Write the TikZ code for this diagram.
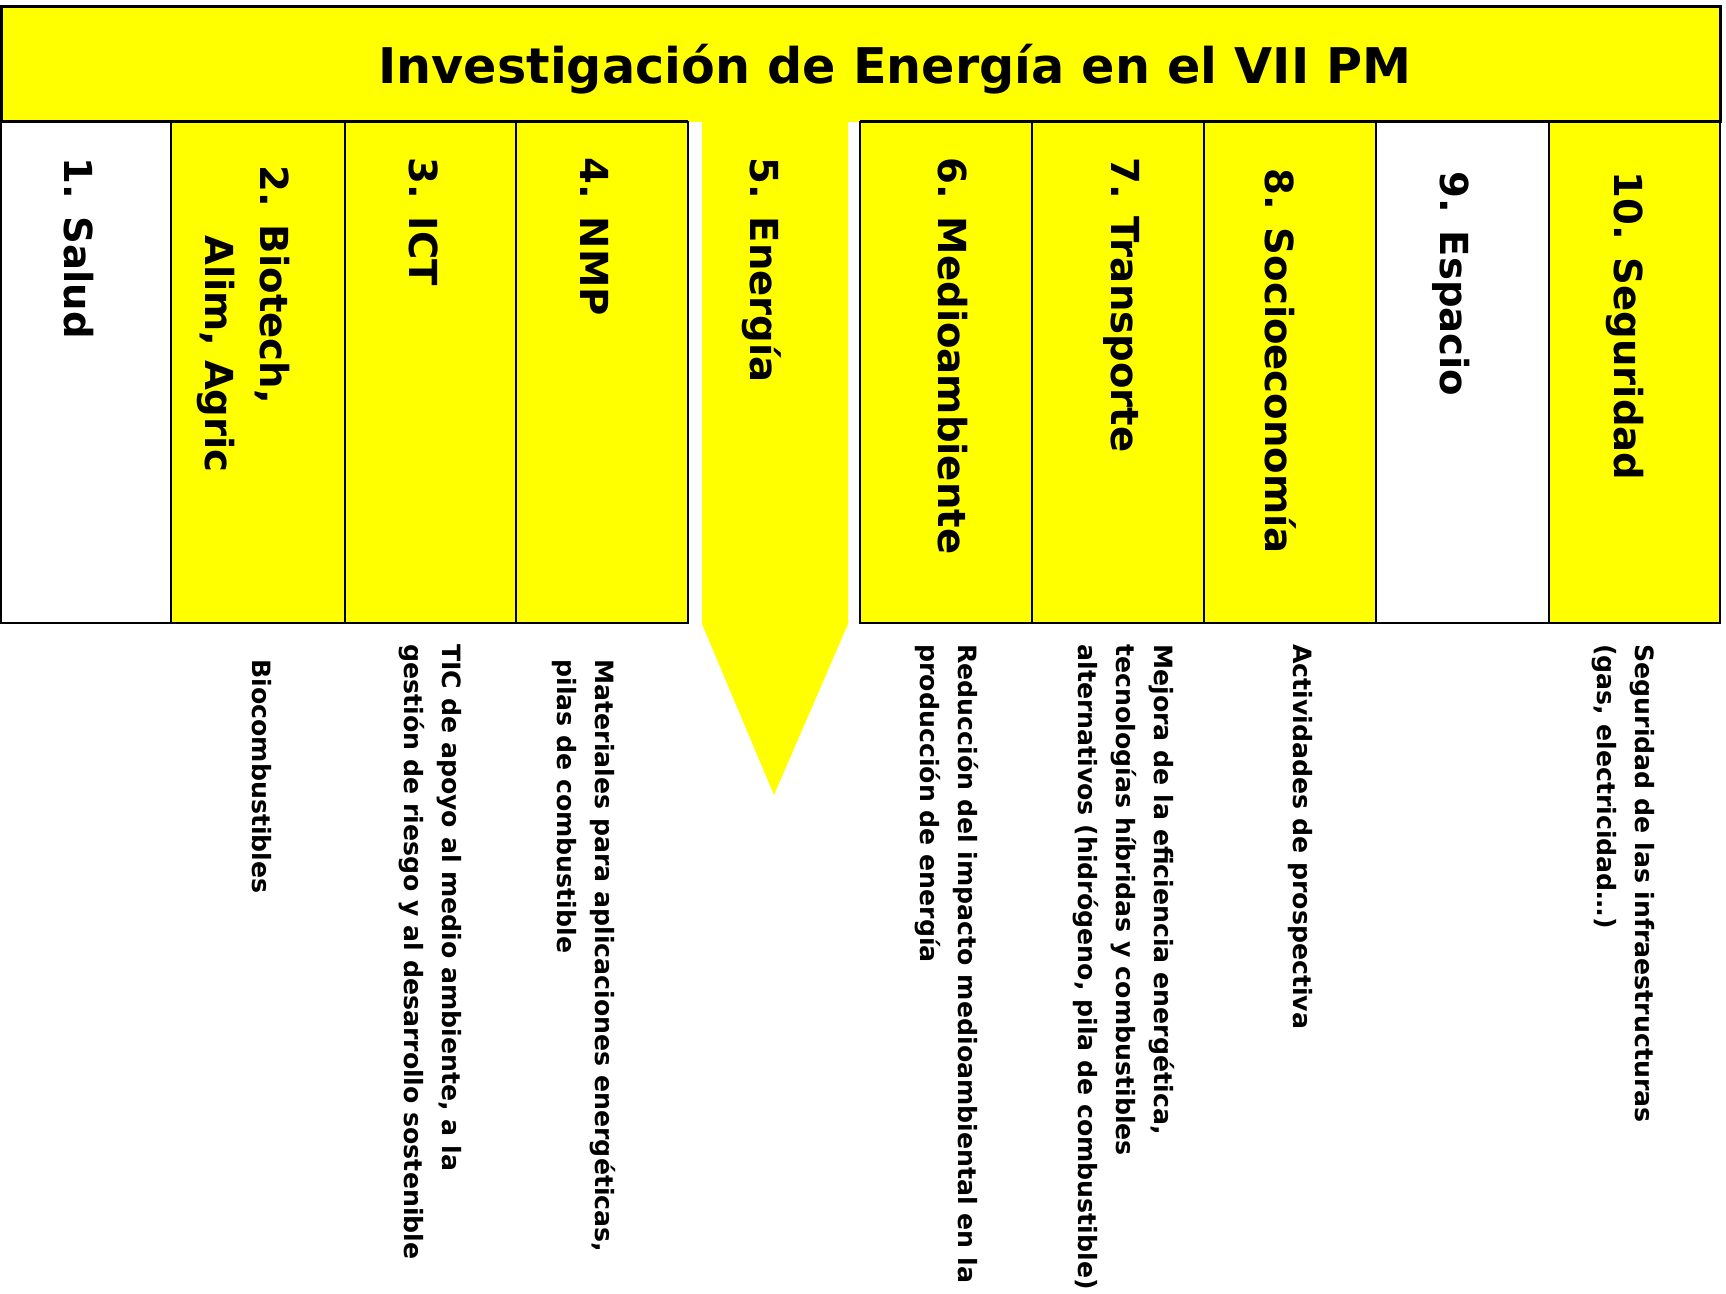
\documentclass[tikz,border=0pt]{standalone}
\usepackage{fontspec}
\setmainfont{DejaVu Sans}
\definecolor{ylw}{HTML}{FFFF00}
\begin{document}
\begin{tikzpicture}[x=0.5pt,y=-0.5pt,
  cellline/.style={draw=black, line width=0.8pt},
  lbl/.style={rotate=-90, anchor=north west, inner sep=0pt, font=\fontsize{19.3}{27.5}\selectfont\bfseries, align=left},
  desc/.style={rotate=-90, anchor=north west, inner sep=0pt, font=\fontsize{12.6}{19}\selectfont\bfseries, align=left},
  ttl/.style={anchor=base, inner sep=0pt, font=\fontsize{24.6}{30}\selectfont\bfseries}]
\useasboundingbox (0,0) rectangle (1726,1294);
\fill[white] (0,0) rectangle (1726,1294);
% title bar and energy arrow
\fill[ylw] (1,7) rectangle (1720,122);
\fill[ylw] (702,121) -- (848,121) -- (848,624) -- (774,795) -- (702,624) -- cycle;
% cells
\filldraw[cellline, fill=white] (1,122) rectangle (171,623);
\filldraw[cellline, fill=ylw] (171,122) rectangle (345,623);
\filldraw[cellline, fill=ylw] (345,122) rectangle (516,623);
\filldraw[cellline, fill=ylw] (516,122) rectangle (688,623);
\filldraw[cellline, fill=ylw] (860,122) rectangle (1032,623);
\filldraw[cellline, fill=ylw] (1032,122) rectangle (1204,623);
\filldraw[cellline, fill=ylw] (1204,122) rectangle (1376,623);
\filldraw[cellline, fill=white] (1376,122) rectangle (1549,623);
\filldraw[cellline, fill=ylw] (1549,122) rectangle (1720,623);
% title border
\draw[line width=1.5pt] (688,122) -- (1,122) -- (1,7) -- (1720,7) -- (1720,122) -- (860,122);
\node[ttl] (title) at (895,84) {Investigación de Energía en el VII PM};
% column labels
\node[lbl] (c1) at (94,157) {1. Salud};
\node[lbl] (c2) at (290,165) {2. Biotech,\\\hspace*{35pt}Alim, Agric};
\node[lbl] (c3) at (439,157) {3. ICT};
\node[lbl] (c4) at (609,157) {4. NMP};
\node[lbl] (c5) at (782,157) {5. Energía};
\node[lbl] (c6) at (968,157) {6. Medioambiente};
\node[lbl] (c7) at (1140,157) {7. Transporte};
\node[lbl] (c8) at (1297,168) {8. Socioeconomía};
\node[lbl] (c9) at (1470,171) {9. Espacio};
\node[lbl] (c10) at (1644,171) {10. Seguridad};
% descriptions
\node[desc] (d2) at (272,659) {Biocombustibles};
\node[desc] (d3) at (462,644) {TIC de apoyo al medio ambiente, a la\\gestión de riesgo y al desarrollo sostenible};
\node[desc] (d4) at (616,659) {Materiales para aplicaciones energéticas,\\pilas de combustible};
\node[desc] (d6) at (979,644) {Reducción del impacto medioambiental en la\\producción de energía};
\node[desc] (d7) at (1175,644) {Mejora de la eficiencia energética,\\tecnologías híbridas y combustibles\\alternativos (hidrógeno, pila de combustible)};
\node[desc] (d8) at (1313,644) {Actividades de prospectiva};
\node[desc] (d10) at (1655,644) {Seguridad de las infraestructuras\\(gas, electricidad…)};
\end{tikzpicture}
\end{document}
